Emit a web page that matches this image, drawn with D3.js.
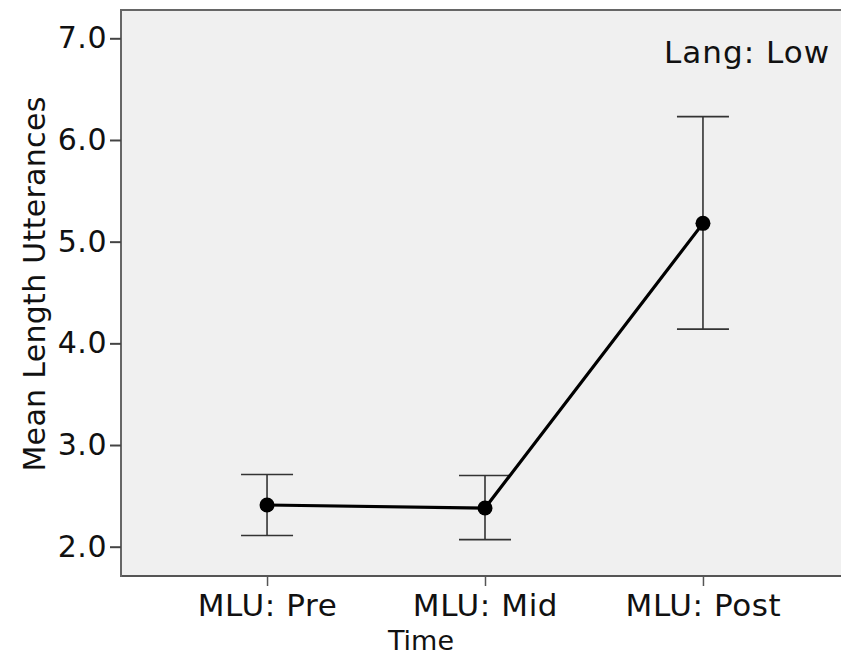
<!DOCTYPE html>
<html><head><meta charset="utf-8">
<script src="https://cdn.jsdelivr.net/npm/d3@7"></script>
<style>html,body{margin:0;background:#fff;overflow:hidden}svg{display:block}text{font-family:"DejaVu Sans",sans-serif;fill:#111}</style>
</head><body><svg id="c" width="870" height="656"></svg>
<script>
const categories = ["MLU: Pre", "MLU: Mid", "MLU: Post"];
const means = [2.41, 2.38, 5.18];
const lower = [2.11, 2.07, 4.14];
const upper = [2.71, 2.70, 6.23];
const yTicks = [2.0, 3.0, 4.0, 5.0, 6.0, 7.0];
const panelLabel = "Lang: Low";
const yTitle = "Mean Length Utterances";
const xTitle = "Time";

const svg = d3.select("#c");
const L = 121, T = 10, R = 849, B = 576;
const y = d3.scaleLinear().domain([2, 7]).range([546.7, 38.3]);
const x = d3.scalePoint().domain(categories).range([L, R]).padding(0.67);

svg.append("rect").attr("x", L).attr("y", T).attr("width", 870 - L).attr("height", B - T)
  .attr("fill", "#f0f0f0");
const frame = svg.append("g").attr("stroke", "#666").attr("stroke-width", 2);
frame.append("line").attr("x1", L).attr("x2", 870).attr("y1", T).attr("y2", T);
frame.append("line").attr("x1", L).attr("x2", 870).attr("y1", B).attr("y2", B).attr("stroke", "#555");
frame.append("line").attr("x1", L).attr("x2", L).attr("y1", T - 1).attr("y2", B + 1);

const yAxis = svg.append("g").attr("transform", `translate(${L},0)`)
  .call(d3.axisLeft(y).tickValues(yTicks).tickFormat(d3.format(".1f")).tickSize(11).tickPadding(3));
yAxis.select(".domain").remove();
yAxis.selectAll("line").attr("stroke", "#444").attr("stroke-width", 2);
yAxis.selectAll("text").style("font-size", "30px").style("letter-spacing", "0.5px").attr("fill", "#111");

const xAxis = svg.append("g").attr("transform", `translate(0,${B})`)
  .call(d3.axisBottom(x).tickSize(10).tickPadding(8));
xAxis.select(".domain").remove();
xAxis.selectAll("line").attr("stroke", "#555").attr("stroke-width", 1.5);
xAxis.selectAll("text").style("font-size", "31px").style("letter-spacing", "0.6px").attr("fill", "#111");

const data = categories.map((c, i) => ({c, m: means[i], lo: lower[i], hi: upper[i]}));
const eb = svg.append("g").attr("stroke", "#333").attr("stroke-width", 1.6);
data.forEach(d => {
  const cx = x(d.c);
  eb.append("line").attr("x1", cx).attr("x2", cx).attr("y1", y(d.lo)).attr("y2", y(d.hi));
  eb.append("line").attr("x1", cx - 26).attr("x2", cx + 26).attr("y1", y(d.lo)).attr("y2", y(d.lo));
  eb.append("line").attr("x1", cx - 26).attr("x2", cx + 26).attr("y1", y(d.hi)).attr("y2", y(d.hi));
});

svg.append("path").datum(data)
  .attr("d", d3.line().x(d => x(d.c)).y(d => y(d.m)))
  .attr("fill", "none").attr("stroke", "#000").attr("stroke-width", 3.2);
svg.selectAll("circle.pt").data(data).enter().append("circle")
  .attr("cx", d => x(d.c)).attr("cy", d => y(d.m)).attr("r", 7.5).attr("fill", "#000");

svg.append("text").attr("x", 830).attr("y", 63).attr("text-anchor", "end")
  .style("font-size", "31px").style("letter-spacing", "1px").text(panelLabel);
svg.append("text").attr("transform", "translate(45,284) rotate(-90)").attr("text-anchor", "middle")
  .style("font-size", "30px").style("letter-spacing", "0.3px").text(yTitle);
svg.append("text").attr("x", 421).attr("y", 650).attr("text-anchor", "middle")
  .style("font-size", "27px").text(xTitle);
</script></body></html>
